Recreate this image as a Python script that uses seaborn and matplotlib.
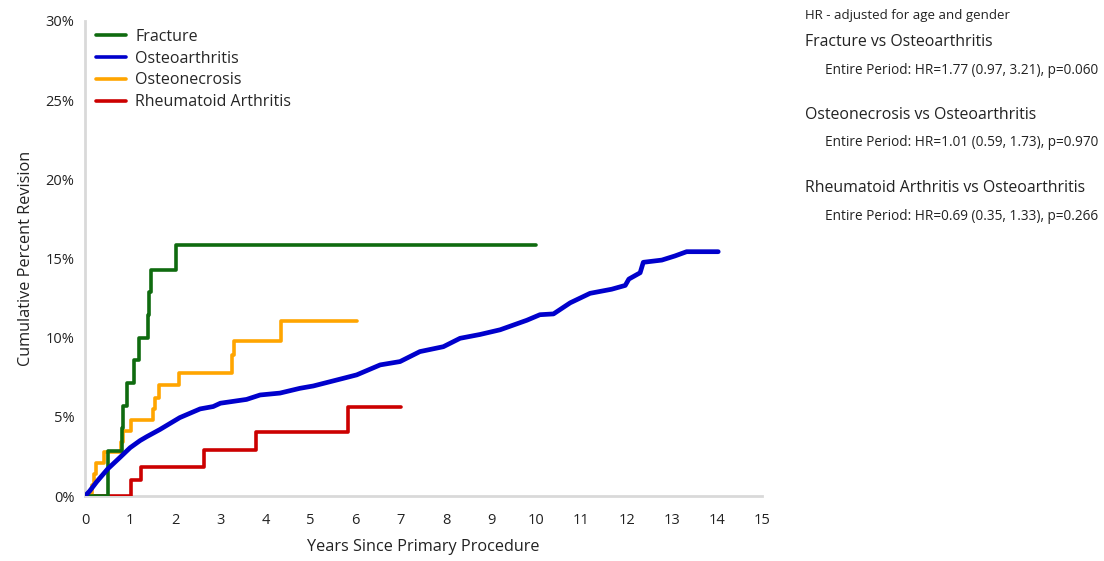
import matplotlib
matplotlib.use("Agg")
import matplotlib.pyplot as plt
import seaborn as sns
import pandas as pd
from matplotlib.ticker import FuncFormatter

# ---- data ----
fracture_t = [0, 0.5, 0.81, 0.85, 0.94, 1.09, 1.19, 1.40, 1.42, 1.46, 2.02, 10.0]
fracture_v = [0, 2.86, 4.29, 5.71, 7.14, 8.57, 10.0, 11.43, 12.86, 14.29, 15.87, 15.87]

oa_t = [0, 0.1, 0.26, 0.5, 0.78, 1.0, 1.22, 1.37, 1.66, 2.1, 2.55, 2.84, 3.0, 3.58,
        3.88, 4.32, 4.76, 5.06, 5.72, 6.02, 6.54, 6.98, 7.42, 7.94, 8.31, 8.75, 9.2,
        9.79, 10.08, 10.38, 10.75, 11.19, 11.67, 11.97, 12.05, 12.3, 12.37, 12.78,
        13.07, 13.33, 14.03]
oa_v = [0, 0.3, 0.9, 1.7, 2.45, 3.05, 3.5, 3.75, 4.2, 4.95, 5.5, 5.65, 5.86, 6.1,
        6.38, 6.5, 6.8, 6.95, 7.43, 7.65, 8.28, 8.49, 9.12, 9.43, 9.96, 10.2, 10.5,
        11.1, 11.45, 11.5, 12.2, 12.8, 13.06, 13.3, 13.7, 14.1, 14.76, 14.9,
        15.16, 15.43, 15.43]

on_t = [0, 0.15, 0.2, 0.25, 0.42, 0.79, 0.85, 1.03, 1.5, 1.56, 1.63, 2.09, 3.25, 3.3, 4.34, 6.02]
on_v = [0, 0.7, 1.4, 2.1, 2.8, 3.4, 4.1, 4.8, 5.5, 6.2, 7.0, 7.8, 8.9, 9.8, 11.05, 11.05]

ra_t = [0, 1.01, 1.25, 2.64, 3.79, 5.83, 7.01]
ra_v = [0, 1.0, 1.81, 2.9, 4.06, 5.64, 5.64]

groups = ["Fracture", "Osteoarthritis", "Osteonecrosis", "Rheumatoid Arthritis"]
colors = {"Fracture": "#0f6b0f", "Osteoarthritis": "#0000cc",
          "Osteonecrosis": "#ffa500", "Rheumatoid Arthritis": "#cc0000"}

x_ticks = list(range(0, 16))
y_ticks = [0, 5, 10, 15, 20, 25, 30]

hr_header = "HR - adjusted for age and gender"
hr_titles = ["Fracture vs Osteoarthritis", "Osteonecrosis vs Osteoarthritis",
             "Rheumatoid Arthritis vs Osteoarthritis"]
hr_lines = ["Entire Period: HR=1.77 (0.97, 3.21), p=0.060",
            "Entire Period: HR=1.01 (0.59, 1.73), p=0.970",
            "Entire Period: HR=0.69 (0.35, 1.33), p=0.266"]

# ---- build frame ----
rows = []
for g, t, v in [("Fracture", fracture_t, fracture_v), ("Osteoarthritis", oa_t, oa_v),
                ("Osteonecrosis", on_t, on_v), ("Rheumatoid Arthritis", ra_t, ra_v)]:
    for a, b in zip(t, v):
        rows.append({"group": g, "t": a, "v": b})
df = pd.DataFrame(rows)

sns.set_style("white")
plt.rcParams["font.family"] = ["Open Sans", "DejaVu Sans"]

fig = plt.figure(figsize=(11.04, 5.61), dpi=100)
ax = fig.add_axes([85/1104, 1-496/561, (762-85)/1104, (496-21)/561])

for g in ["Rheumatoid Arthritis", "Osteonecrosis", "Fracture", "Osteoarthritis"]:
    sub = df[df.group == g]
    if g == "Osteoarthritis":
        sns.lineplot(data=sub, x="t", y="v", ax=ax, color=colors[g], lw=3.4,
                     estimator=None, sort=False, label=g, zorder=4)
    else:
        sns.lineplot(data=sub, x="t", y="v", ax=ax, color=colors[g], lw=2.6,
                     estimator=None, sort=False, drawstyle="steps-post", label=g, zorder=3)

ax.set_xlim(0, 15)
ax.set_ylim(0, 30)
ax.set_xticks(x_ticks)
ax.set_yticks(y_ticks)
ax.yaxis.set_major_formatter(FuncFormatter(lambda v, p: f"{int(v)}%"))
ax.tick_params(axis="both", labelsize=10.5, colors="#d9d9d9", labelcolor="#222222",
               length=4, width=1, direction="out")
ax.tick_params(axis="x", pad=8)
for s in ["top", "right"]:
    ax.spines[s].set_visible(False)
for s in ["left", "bottom"]:
    ax.spines[s].set_color("#d9d9d9")
    ax.spines[s].set_linewidth(2)
ax.set_xlabel("Years Since Primary Procedure", fontsize=11.7, color="#222222", labelpad=8)
ax.set_ylabel("Cumulative Percent Revision", fontsize=11.7, color="#222222", labelpad=8)

handles, labels = ax.get_legend_handles_labels()
hmap = dict(zip(labels, handles))
leg = ax.legend([hmap[g] for g in groups], groups, loc="upper left",
                bbox_to_anchor=(0.0, 1.007), frameon=False, fontsize=11.5,
                handlelength=1.85, handletextpad=0.6, labelspacing=0.36,
                borderaxespad=0.3)
for line in leg.get_lines():
    line.set_linewidth(2.6)

# ---- right-hand annotations ----
fig.text(805/1104, 1-15/561, hr_header, fontsize=9.5, color="#222222", va="center")
ys_title = [42, 115, 188]
ys_line = [70, 143, 216]
for ttl, ln, yt, yl in zip(hr_titles, hr_lines, ys_title, ys_line):
    fig.text(805/1104, 1-yt/561, ttl, fontsize=11.4, color="#222222", va="center")
    fig.text(825/1104, 1-yl/561, ln, fontsize=9.8, color="#222222", va="center")

fig.savefig("out.png", dpi=100)
